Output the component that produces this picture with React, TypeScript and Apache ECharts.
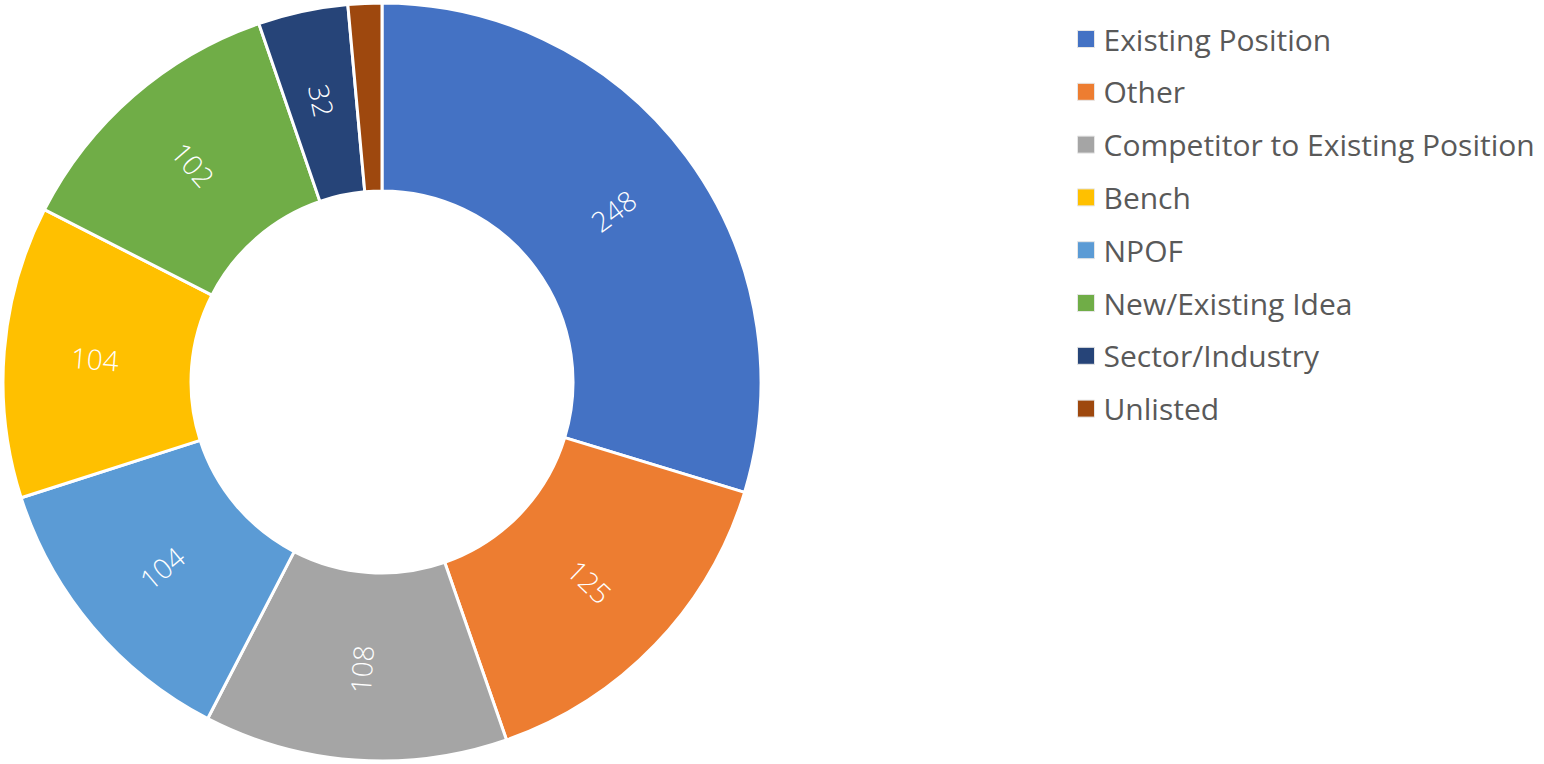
import React, { useEffect, useRef } from "react";
import * as echarts from "echarts";

const legendOrder = [
  "Existing Position",
  "Other",
  "Competitor to Existing Position",
  "Bench",
  "NPOF",
  "New/Existing Idea",
  "Sector/Industry",
  "Unlisted",
];
// slices clockwise from 12 o'clock
const sliceNames = [
  "Existing Position",
  "Other",
  "Competitor to Existing Position",
  "NPOF",
  "Bench",
  "New/Existing Idea",
  "Sector/Industry",
  "Unlisted",
];
const sliceValues = [248, 125, 108, 104, 104, 102, 32, 12];
const colorByName: Record<string, string> = {
  "Existing Position": "#4472C4",
  Other: "#ED7D31",
  "Competitor to Existing Position": "#A5A5A5",
  Bench: "#FFC000",
  NPOF: "#5B9BD5",
  "New/Existing Idea": "#70AD47",
  "Sector/Industry": "#264478",
  Unlisted: "#9E480E",
};

export default function App() {
  const ref = useRef<HTMLDivElement>(null);
  useEffect(() => {
    document.body.style.margin = "0";
    const chart = echarts.init(ref.current!, null, { renderer: "svg" });
    chart.setOption({
      animation: false,
      legend: {
        orient: "vertical",
        left: 1072,
        top: 19,
        itemWidth: 17,
        itemHeight: 17,
        itemGap: 22.8,
        icon: "rect",
        itemStyle: { borderColor: "#e6e6e6", borderWidth: 1 },
        textStyle: { fontFamily: "Open Sans", fontSize: 30, color: "#595959", padding: [0, 0, 0, 4] },
        data: legendOrder,
      },
      series: [
        {
          type: "pie",
          center: [382, 382],
          radius: [191, 379],
          startAngle: 90,
          clockwise: true,
          itemStyle: { borderColor: "#fff", borderWidth: 3 },
          label: {
            show: true,
            position: "inside",
            rotate: "radial",
            color: "#fff",
            fontFamily: "Open Sans",
            fontWeight: 300,
            fontSize: 28,
            formatter: (p: any) => (p.value < 20 ? "" : String(p.value)),
          },
          labelLine: { show: false },
          data: sliceNames.map((name, i) => ({
            name,
            value: sliceValues[i],
            itemStyle: { color: colorByName[name] },
          })),
        },
      ],
    });
    return () => chart.dispose();
  }, []);
  return <div ref={ref} style={{ width: 1544, height: 764 }} />;
}
